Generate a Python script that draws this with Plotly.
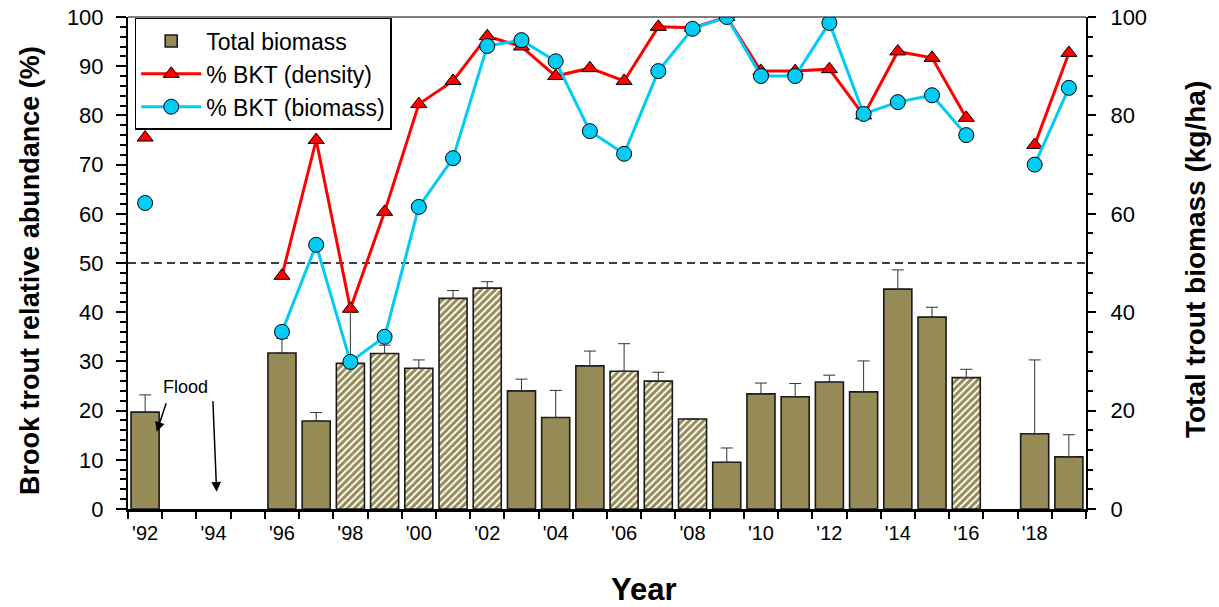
import plotly.graph_objects as go

years = list(range(1992, 2020))

# % BKT (density) - left axis
density = [75.5, None, None, None, 47.4, 75.0, 40.7, 60.4, 82.3, 87.0, 96.1, 94.0,
           88.0, 89.6, 87.0, 98.0, 97.8, 100.0, 89.0, 89.0, 89.4, 80.0, 93.0, 91.7,
           79.5, None, 74.0, 92.7]
# % BKT (biomass) - left axis
biomass_pct = [62.2, None, None, None, 36.0, 53.7, 29.9, 35.0, 61.4, 71.3, 94.1, 95.3,
               91.0, 76.8, 72.2, 89.0, 97.6, 100.0, 88.0, 88.0, 98.8, 80.3, 82.7, 84.1,
               76.0, None, 70.0, 85.6]
# Total biomass (kg/ha) - right axis
total_biomass = [19.7, None, None, None, 31.7, 17.9, 29.6, 31.6, 28.6, 42.8, 44.9, 24.0,
                 18.6, 29.1, 28.0, 26.0, 18.3, 9.5, 23.4, 22.8, 25.8, 23.8, 44.7, 39.0,
                 26.7, None, 15.3, 10.6]
# upper error (kg/ha)
biomass_err = [3.5, None, None, None, 3.0, 1.7, 10.5, 1.7, 1.7, 1.6, 1.3, 2.4,
               5.5, 3.0, 5.6, 1.8, 0.0, 2.9, 2.2, 2.7, 1.4, 6.3, 3.9, 2.0,
               1.7, None, 15.0, 4.5]
hatched_years = [1998, 1999, 2000, 2001, 2002, 2006, 2007, 2008, 2016]

label_years = list(range(1992, 2019, 2))
label_text = ["'" + str(y)[2:] for y in label_years]

OLIVE = "#968B56"
FONT = "Arial, Liberation Sans, sans-serif"

shapes_pattern = ["/" if y in hatched_years else "" for y in years]

fig = go.Figure()

fig.add_trace(go.Bar(
    x=years, y=total_biomass, yaxis="y", name="Total biomass",
    width=0.82,
    marker=dict(color=OLIVE, line=dict(color="#1a1a1a", width=1.6),
                pattern=dict(shape=shapes_pattern, fgcolor="white", bgcolor=OLIVE,
                             fillmode="replace", size=5, solidity=0.4)),
    error_y=dict(type="data", symmetric=False, array=biomass_err,
                 arrayminus=[0] * len(years), color="#333333", thickness=1, width=6),
    showlegend=False,
))
# legend proxy for bars (solid)
fig.add_trace(go.Bar(
    x=[None], y=[None], name="Total biomass",
    marker=dict(color=OLIVE, line=dict(color="#1a1a1a", width=1.6)),
))

fig.add_trace(go.Scatter(
    x=years, y=density, yaxis="y2", name="% BKT (density)", mode="lines+markers",
    line=dict(color="#FF0000", width=3),
    marker=dict(symbol="triangle-up", size=14, color="#FF0000",
                line=dict(color="black", width=1)),
    connectgaps=False,
))
fig.add_trace(go.Scatter(
    x=years, y=biomass_pct, yaxis="y2", name="% BKT (biomass)", mode="lines+markers",
    line=dict(color="#00CCF5", width=3),
    marker=dict(symbol="circle", size=15, color="#00CCF5",
                line=dict(color="black", width=1)),
    connectgaps=False,
))

fig.update_layout(
    width=1219, height=607,
    margin=dict(l=128, r=133, t=17, b=98, autoexpand=False),
    paper_bgcolor="white", plot_bgcolor="white",
    font=dict(family=FONT, color="black", size=21),
    bargap=0.18,
    xaxis=dict(
        range=[1991.5, 2019.5], tickmode="array", tickvals=label_years, ticktext=label_text,
        ticks="", showline=True, linecolor="black", linewidth=2.5, showgrid=False,
        zeroline=False, tickfont=dict(size=20), automargin=False, ticklabelstandoff=4,
        minor=dict(tickmode="array", tickvals=[y - 0.5 for y in years] + [2019.5],
                   ticks="outside", ticklen=7, tickwidth=2, tickcolor="black", showgrid=False),
    ),
    yaxis=dict(
        range=[0, 100], side="right", tickvals=[0, 20, 40, 60, 80, 100],
        ticks="outside", ticklen=8, tickwidth=2, tickcolor="black",
        showline=True, linecolor="black", linewidth=2, showgrid=False, zeroline=False,
        tickfont=dict(size=22), automargin=False, ticklabelstandoff=10,
        minor=dict(dtick=4, tick0=0, ticks="outside", ticklen=5, tickwidth=1.5,
                   tickcolor="black", showgrid=False),
    ),
    yaxis2=dict(
        range=[0, 100], side="left", overlaying="y", tickvals=list(range(0, 101, 10)),
        ticks="outside", ticklen=10, tickwidth=2, tickcolor="black",
        showline=True, linecolor="black", linewidth=2, showgrid=False, zeroline=False,
        tickfont=dict(size=22), automargin=False, ticklabelstandoff=8,
        minor=dict(dtick=2, tick0=0, ticks="outside", ticklen=6, tickwidth=1.5,
                   tickcolor="black", showgrid=False),
    ),
    legend=dict(
        x=0.007, y=0.998, xanchor="left", yanchor="top",
        bordercolor="black", borderwidth=1.5, bgcolor="white",
        font=dict(size=23), tracegroupgap=0, itemwidth=60,
    ),
    shapes=[
        dict(type="line", xref="paper", yref="y2", x0=0, x1=1, y0=50, y1=50,
             line=dict(color="black", width=1.5, dash="8px,5px"), layer="below"),
        dict(type="line", xref="paper", yref="paper", x0=0, x1=1, y0=1, y1=1,
             line=dict(color="black", width=1.2)),
    ],
    annotations=[
        dict(x=-0.1023, y=0.486, xref="paper", yref="paper", textangle=-90,
             text="<b>Brook trout relative abundance (%)</b>", showarrow=False,
             font=dict(size=27), xanchor="center", yanchor="middle"),
        dict(x=1.1138, y=0.506, xref="paper", yref="paper", textangle=-90,
             text="<b>Total trout biomass (kg/ha)</b>", showarrow=False,
             font=dict(size=28), xanchor="center", yanchor="middle"),
        dict(x=0.5386, y=-0.1646, xref="paper", yref="paper",
             text="<b>Year</b>", showarrow=False,
             font=dict(size=31), xanchor="center", yanchor="middle"),
        dict(x=1993.19, y=24.7, xref="x", yref="y", text="Flood", showarrow=False,
             font=dict(size=18)),
        dict(x=1992.34, y=15.7, ax=1992.63, ay=21.8, xref="x", yref="y", axref="x", ayref="y",
             text="", showarrow=True, arrowhead=2, arrowsize=1.3, arrowwidth=1.5,
             arrowcolor="black"),
        dict(x=1994.09, y=3.5, ax=1993.98, ay=22.2, xref="x", yref="y", axref="x", ayref="y",
             text="", showarrow=True, arrowhead=2, arrowsize=1.3, arrowwidth=1.5,
             arrowcolor="black"),
    ],
)

fig.write_html("out.html")
